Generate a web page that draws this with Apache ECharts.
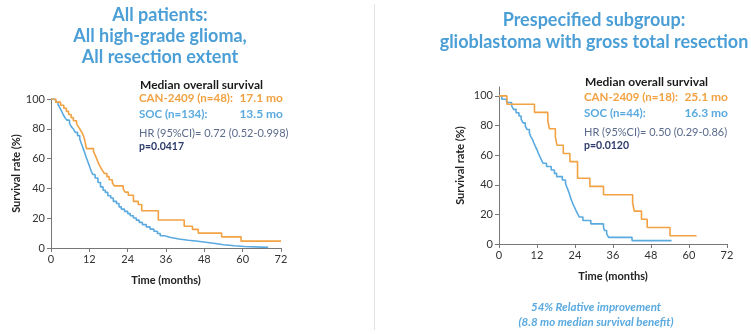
<!DOCTYPE html>
<html>
<head>
<meta charset="utf-8">
<script src="https://cdn.jsdelivr.net/npm/echarts@6/dist/echarts.min.js"></script>
<style>
  html, body { margin: 0; padding: 0; background: #fff; }
  #chart { width: 751px; height: 334px; }
</style>
</head>
<body>
<div id="chart"></div>
<script>
// Kaplan-Meier curves: [month, survival %]
var allCan = [[0,100],[1.5,97.9],[3,95.8],[4,93.8],[4.8,91.7],[5.5,89.6],[6.3,87.5],[7,85.4],[8,83.3],[8.6,81.3],[9.2,79.2],[9.8,77.1],[10.2,75],[10.5,72.9],[10.9,68.8],[11.1,66.7],[13.3,64.6],[13.8,62.5],[14.2,60.4],[14.6,58.3],[15,56.3],[15.5,54.2],[16.1,52.1],[16.7,50],[17.5,47.9],[18.2,45.8],[19.2,43.8],[19.8,41.7],[22.6,39.6],[23.2,37.5],[24.2,35.4],[25.8,31.3],[27.3,29.2],[28.4,25],[33.6,18.8],[41.7,14.6],[44.3,12.5],[46.1,10],[53.4,7.5],[59.5,4.6],[72,4.6]];
var allSoc = [[0,100],[0.8,99.3],[1.5,97.8],[2.2,96.3],[2.8,94],[3.3,91.8],[3.8,89.6],[4.4,87.3],[5,85.8],[5.8,83.6],[6.4,81.3],[7,79.9],[7.6,77.6],[8.3,75.4],[9,73.1],[9.5,70.1],[10,67.2],[10.5,64.2],[11.1,60.4],[11.6,57.5],[12.1,54.5],[12.6,51.5],[13.1,49.3],[13.8,47],[14.7,44],[15.5,41],[16.3,38.8],[17,37.3],[17.8,35.1],[18.7,33.6],[19.5,31.3],[20.5,29.9],[21.3,27.6],[22,26.1],[23,24.6],[24,23.1],[24.8,21.6],[25.8,20.1],[26.7,18.7],[27.6,17.2],[28.6,15.7],[29.8,14.2],[31,12.7],[32.2,11.2],[33.3,9.7],[34.2,8.2],[35.5,7],[37.5,6],[40,5.2],[43,4.5],[46,3.7],[49,3],[51.5,2.2],[54,1.5],[57.5,1],[60.5,0.4],[68,0.4]];
var gbmCan = [[0,100],[2.5,94.4],[11.2,88.9],[15.4,83.3],[15.9,77.8],[17.8,72.2],[18.3,66.7],[20.3,61.1],[22.4,55.6],[24.8,44.4],[28.7,38.9],[33,33.3],[42.2,27.8],[42.7,22.2],[45,16.7],[46.8,11.1],[54,5.6],[62.4,5.6]];
var gbmSoc = [[0,100],[0.9,97.7],[2.4,95.5],[4,93.2],[4.6,90.9],[5.4,88.6],[6.3,86.4],[7,84.1],[7.6,81.8],[8.3,79.5],[8.9,77.3],[9.6,75],[10,72.7],[10.6,70.5],[11,68.2],[11.5,65.9],[12,63.6],[12.4,61.4],[12.9,59.1],[13.4,56.8],[13.9,54.5],[15,52.3],[16.5,50],[17.5,47.7],[18.2,45.5],[20,43.2],[21,40.9],[21.4,38.6],[21.8,36.4],[22.2,34.1],[22.5,31.8],[22.9,29.5],[23.3,27.3],[23.8,25],[24.3,22.7],[24.8,20.5],[25.4,18.2],[26.5,15.9],[29,13.6],[33,11.4],[33.3,9.1],[34,6.8],[34.6,4.5],[42,2.3],[54.5,2.3]];

var xTicks = [0, 12, 24, 36, 48, 60, 72];
var yTicks = [0, 20, 40, 60, 80, 100];

var ORANGE = '#f2a243';
var BLUE = '#5aaae0';
var FONT = 'Lato';

function xAxis(gi) {
    return {
        type: 'value', gridIndex: gi, min: xTicks[0], max: xTicks[xTicks.length - 1], interval: 12,
        name: 'Time (months)', nameLocation: 'middle', nameGap: 27,
        nameTextStyle: {fontFamily: FONT, fontWeight: 'bold', fontSize: 11, color: '#222'},
        axisLine: {lineStyle: {color: '#777', width: 1}},
        axisTick: {length: 4, lineStyle: {color: '#777'}},
        axisLabel: {fontFamily: FONT, fontSize: 11, color: '#333', margin: 6},
        splitLine: {show: false}
    };
}
// top: the axis line may run a little past 100 (right panel does)
function yAxis(gi, gap, top) {
    return {
        type: 'value', gridIndex: gi, min: yTicks[0], max: top, interval: 20,
        name: 'Survival rate (%)', nameLocation: 'middle', nameGap: gap, nameRotate: 90,
        nameTextStyle: {fontFamily: FONT, fontWeight: 'bold', fontSize: 11, color: '#222'},
        axisLine: {show: true, lineStyle: {color: '#777', width: 1}},
        axisTick: {show: true, length: 4, customValues: yTicks, lineStyle: {color: '#777'}},
        axisLabel: {fontFamily: FONT, fontSize: 11, color: '#333', margin: 6, customValues: yTicks},
        splitLine: {show: false}
    };
}
function km(data, color, gi) {
    return {
        type: 'line', step: 'end', data: data, xAxisIndex: gi, yAxisIndex: gi,
        showSymbol: false, silent: true, animation: false,
        lineStyle: {color: color, width: 1.6}
    };
}
function txt(x, y, s, fill, size, weight, align, italic) {
    return {
        type: 'text', x: x, y: y, silent: true,
        style: {
            text: s, fill: fill, fontSize: size, fontWeight: weight || 'normal',
            fontStyle: italic ? 'italic' : 'normal',
            fontFamily: FONT, textAlign: align || 'left', textVerticalAlign: 'middle'
        }
    };
}

var chart = echarts.init(document.getElementById('chart'));
var TITLE = '#4b9fd6';
chart.setOption({
    animation: false,
    grid: [
        {left: 51, right: 470, top: 99, bottom: 86},
        {left: 499, right: 24, top: 87, bottom: 90}
    ],
    xAxis: [xAxis(0), xAxis(1)],
    yAxis: [yAxis(0, 27, 100), yAxis(1, 33, 106)],
    series: [
        km(allSoc, BLUE, 0),
        km(allCan, ORANGE, 0),
        km(gbmSoc, BLUE, 1),
        km(gbmCan, ORANGE, 1)
    ],
    graphic: [
        {type: 'line', shape: {x1: 374.5, y1: 4, x2: 374.5, y2: 330}, style: {stroke: '#e2e2e2', lineWidth: 1}},
        txt(160, 15, 'All patients:', TITLE, 18, 'bold', 'center'),
        txt(160, 36, 'All high-grade glioma,', TITLE, 18, 'bold', 'center'),
        txt(160, 57, 'All resection extent', TITLE, 18, 'bold', 'center'),
        txt(594, 20, 'Prespecified subgroup:', TITLE, 18, 'bold', 'center'),
        txt(594, 42, 'glioblastoma with gross total resection', TITLE, 18, 'bold', 'center'),

        txt(140, 85, 'Median overall survival', '#1a1a1a', 12, 'bold'),
        txt(139, 98, 'CAN-2409 (n=48):', ORANGE, 11.5, 'bold'),
        txt(283, 98, '17.1 mo', ORANGE, 12, 'bold', 'right'),
        txt(139, 114, 'SOC (n=134):', BLUE, 11.5, 'bold'),
        txt(283, 114, '13.5 mo', BLUE, 12, 'bold', 'right'),
        txt(139, 133, 'HR (95%CI)= 0.72 (0.52-0.998)', '#5b6b8c', 11),
        txt(139, 147, 'p=0.0417', '#2c3b6b', 10.5, 'bold'),

        txt(585, 82, 'Median overall survival', '#1a1a1a', 12, 'bold'),
        txt(584, 97, 'CAN-2409 (n=18):', ORANGE, 11.5, 'bold'),
        txt(728, 97, '25.1 mo', ORANGE, 12, 'bold', 'right'),
        txt(584, 113, 'SOC (n=44):', BLUE, 11.5, 'bold'),
        txt(728, 113, '16.3 mo', BLUE, 12, 'bold', 'right'),
        txt(584, 132, 'HR (95%CI)= 0.50 (0.29-0.86)', '#5b6b8c', 11),
        txt(584, 146, 'p=0.0120', '#2c3b6b', 10.5, 'bold'),

        txt(596, 307, '54% Relative improvement', BLUE, 11.5, 'bold', 'center', true),
        txt(596, 322, '(8.8 mo median survival benefit)', BLUE, 11.5, 'bold', 'center', true)
    ]
});
</script>
</body>
</html>
